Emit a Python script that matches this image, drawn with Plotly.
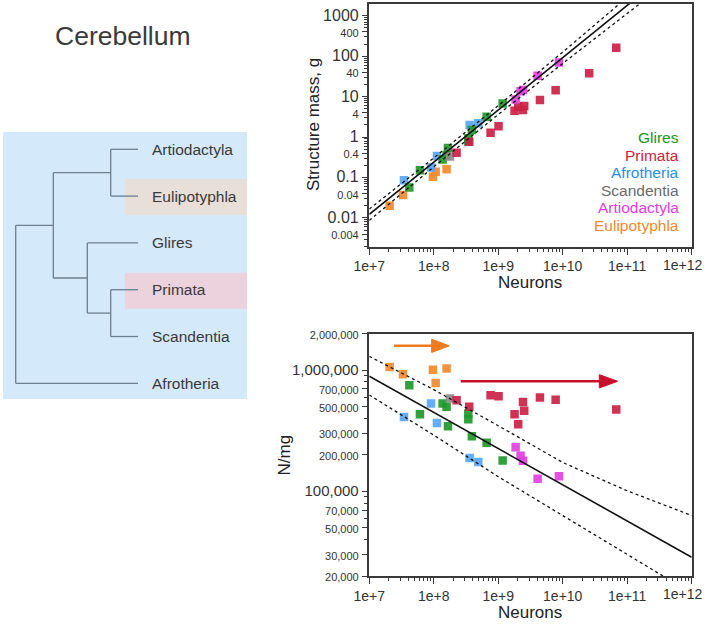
import math
import plotly.graph_objects as go

# ---------------- data ----------------
species = ["Glires", "Primata", "Afrotheria", "Scandentia", "Artiodactyla", "Eulipotyphla"]

glires_neurons = [4.17e7, 6.1e7, 1.37e8, 1.58e8, 1.66e8, 3.43e8, 3.43e8, 3.9e8, 6.6e8, 1.17e9]
glires_mass = [0.057, 0.152, 0.28, 0.36, 0.54, 0.78, 0.93, 1.49, 3.18, 6.8]
glires_density = [7.5e5, 4.33e5, 5.3e5, 4.98e5, 3.44e5, 4.39e5, 3.94e5, 2.85e5, 2.52e5, 1.8e5]

primata_neurons = [2.26e8, 3.55e8, 7.6e8, 1.01e9, 1.79e9, 2.04e9, 2.42e9, 2.53e9, 4.43e9, 7.76e9, 2.57e10, 6.76e10]
primata_mass = [0.41, 0.77, 1.28, 1.85, 4.5, 5.6, 4.66, 5.85, 8.2, 14.3, 37.7, 162]
primata_density = [5.65e5, 4.98e5, 6.2e5, 6.1e5, 4.33e5, 3.58e5, 5.45e5, 4.62e5, 5.94e5, 5.69e5, None, 4.73e5]

afrotheria_neurons = [3.45e7, 9.06e7, 1.12e8, 3.6e8, 4.9e8]
afrotheria_mass = [0.086, 0.178, 0.34, 1.98, 2.2]
afrotheria_density = [4.1e5, 5.3e5, 3.67e5, 1.88e5, 1.75e5]

scandentia_neurons = [1.78e8]
scandentia_mass = [0.33]
scandentia_density = [5.83e5]

artiodactyla_neurons = [1.86e9, 2.22e9, 2.42e9, 4.08e9, 8.73e9]
artiodactyla_mass = [8.5, 13.5, 14.6, 32.9, 70.0]
artiodactyla_density = [2.31e5, 1.97e5, 1.79e5, 1.27e5, 1.33e5]

eulipotyphla_neurons = [2.07e7, 3.33e7, 9.7e7, 1.07e8, 1.58e8]
eulipotyphla_mass = [0.02, 0.037, 0.105, 0.139, 0.16]
eulipotyphla_density = [1.06e6, 9.27e5, 1.01e6, 7.85e5, 1.03e6]

# fitted power laws and prediction bands
fit_neurons = [1e7, 1e8, 1e9, 1e10, 1e11, 1e12]
mass_fit = [0.0123, 0.237, 4.66, 91.6, 1803, 35480]
mass_fit_upper = [0.0166, 0.305, 6.0, 126, 2858, 66070]
mass_fit_lower = [0.0087, 0.184, 3.61, 66.1, 1138, 19050]
density_fit = [891000, 448000, 225000, 113000, 57000, 28600]
density_fit_upper = [1.30e6, 6.9e5, 3.48e5, 1.73e5, 1.01e5, 6.31e4]
density_fit_lower = [6.24e5, 2.91e5, 1.32e5, 6.31e4, 3.01e4, 1.44e4]

# tick labels (the last x label is set flush with the right edge, as in the reference)
x_tickvals = [1e7, 1e8, 1e9, 1e10, 1e11, 1e12]
x_ticktext = ["1e+7", "1e+8", "1e+9", "1e+10", "1e+11", ""]
x_last_label = "1e+12"
mass_tickvals = [0.004, 0.01, 0.04, 0.1, 0.4, 1, 4, 10, 40, 100, 400, 1000]
mass_ticktext = ["0.004", "0.01", "0.04", "0.1", "0.4", "1", "4", "10", "40", "100", "400", "1000"]
mass_major = ["0.01", "0.1", "1", "10", "100", "1000"]
dens_tickvals = [2e4, 3e4, 5e4, 7e4, 1e5, 2e5, 3e5, 5e5, 7e5, 1e6, 2e6]
dens_ticktext = ["20,000", "30,000", "50,000", "70,000", "100,000", "200,000",
                 "300,000", "500,000", "700,000", "1,000,000", "2,000,000"]
dens_major = ["100,000", "1,000,000"]

# cladogram: leaves top to bottom, topology
tree_leaves = ["Artiodactyla", "Eulipotyphla", "Glires", "Primata", "Scandentia", "Afrotheria"]
tree_topology = ((("Artiodactyla", "Eulipotyphla"), ("Glires", ("Primata", "Scandentia"))), "Afrotheria")
highlighted = {"Eulipotyphla": "#e8dfd9", "Primata": "#ebd2dc"}

# ---------------- styling ----------------
colors = {"Glires": "#21992a", "Primata": "#cc2146", "Afrotheria": "#5aa6f2",
          "Scandentia": "#8c8c8c", "Artiodactyla": "#e241e0", "Eulipotyphla": "#f28a30"}
text_colors = {"Glires": "#1c951c", "Primata": "#d3213b", "Afrotheria": "#2c8de6",
               "Scandentia": "#6a6a6a", "Artiodactyla": "#e33de3", "Eulipotyphla": "#f0892c"}
FONT = "Liberation Sans, Arial, Helvetica, sans-serif"
W, H = 708, 625


def px(X):
    return X / W


def py(Y):
    return 1 - Y / H


series = {
    "Glires": (glires_neurons, glires_mass, glires_density),
    "Primata": (primata_neurons, primata_mass, primata_density),
    "Afrotheria": (afrotheria_neurons, afrotheria_mass, afrotheria_density),
    "Scandentia": (scandentia_neurons, scandentia_mass, scandentia_density),
    "Artiodactyla": (artiodactyla_neurons, artiodactyla_mass, artiodactyla_density),
    "Eulipotyphla": (eulipotyphla_neurons, eulipotyphla_mass, eulipotyphla_density),
}

fig = go.Figure()
draw_order = ["Eulipotyphla", "Afrotheria", "Glires", "Scandentia", "Primata", "Artiodactyla"]
for sp in draw_order:
    n, m, d = series[sp]
    mk = dict(symbol="square", size=8.5, color=colors[sp], opacity=0.92, line=dict(width=0))
    fig.add_trace(go.Scatter(x=n, y=m, mode="markers", marker=mk, name=sp,
                             showlegend=False, xaxis="x", yaxis="y"))
    fig.add_trace(go.Scatter(x=n, y=d, mode="markers", marker=mk, name=sp,
                             showlegend=False, xaxis="x2", yaxis="y2"))

for ys, dash, ax in [(mass_fit, "solid", "y"), (mass_fit_upper, "dot", "y"), (mass_fit_lower, "dot", "y"),
                     (density_fit, "solid", "y2"), (density_fit_upper, "dot", "y2"),
                     (density_fit_lower, "dot", "y2")]:
    fig.add_trace(go.Scatter(x=fit_neurons, y=ys, mode="lines", showlegend=False,
                             line=dict(color="#111111", width=1.6 if dash == "solid" else 1.3, dash=dash),
                             xaxis="x" if ax == "y" else "x2", yaxis=ax, hoverinfo="skip"))


def minor_ticks(lo, hi, skip):
    vals = []
    for e in range(lo, hi + 1):
        for k in range(2, 10):
            v = k * 10 ** e
            if all(abs(v - s) / s > 1e-9 for s in skip):
                vals.append(v)
    return vals


def styled(texts, majors, big, small):
    return [f"<span style='font-size:{big}px'>{t}</span>" if t in majors
            else f"<span style='font-size:{small}px'>{t}</span>" for t in texts]


axis_common = dict(type="log", showline=True, linecolor="#3a3a3a", linewidth=1.6, mirror=True,
                   ticks="outside", ticklen=6, tickwidth=1.2, tickcolor="#3a3a3a", automargin=False,
                   ticklabeloverflow="allow",
                   showgrid=False, zeroline=False, tickfont=dict(family=FONT, color="#333", size=14))

xdom = [px(369.3), px(691.7)]
fig.update_layout(
    width=W, height=H, margin=dict(l=0, r=0, t=0, b=0, autoexpand=False),
    paper_bgcolor="white", plot_bgcolor="white", showlegend=False,
    font=dict(family=FONT, color="#333"),
    xaxis=dict(axis_common, domain=xdom, range=[7, 12], anchor="y",
               tickmode="array", tickvals=x_tickvals, ticktext=x_ticktext,
               minor=dict(ticks="outside", ticklen=3.5, tickcolor="#3a3a3a", tickwidth=1,
                          tickmode="array", tickvals=minor_ticks(7, 11, x_tickvals))),
    yaxis=dict(axis_common, domain=[py(246.7), py(4)], range=[-2.71, 3.29], anchor="x",
               tickmode="array", tickvals=mass_tickvals,
               ticktext=styled(mass_ticktext, mass_major, 16, 11),
               minor=dict(ticks="outside", ticklen=3.5, tickcolor="#3a3a3a", tickwidth=1,
                          tickmode="array", tickvals=minor_ticks(-3, 3, mass_tickvals))),
    xaxis2=dict(axis_common, domain=xdom, range=[7, 12], anchor="y2",
                tickmode="array", tickvals=x_tickvals, ticktext=x_ticktext,
                minor=dict(ticks="outside", ticklen=3.5, tickcolor="#3a3a3a", tickwidth=1,
                           tickmode="array", tickvals=minor_ticks(7, 11, x_tickvals))),
    yaxis2=dict(axis_common, domain=[py(576), py(333.7)], range=[math.log10(2e4), math.log10(2e6)],
                anchor="x2", tickmode="array", tickvals=dens_tickvals,
                ticktext=styled(dens_ticktext, dens_major, 15, 11),
                minor=dict(ticks="outside", ticklen=3.5, tickcolor="#3a3a3a", tickwidth=1,
                           tickmode="array", tickvals=minor_ticks(4, 6, dens_tickvals))),
)

annotations = []
shapes = []

# axis titles
annotations += [
    dict(text="Structure mass, g", x=px(314), y=py(125), textangle=-90, font=dict(size=17)),
    dict(text="Neurons", x=px(529.5), y=py(282), font=dict(size=17)),
    dict(text="N/mg", x=px(283.5), y=py(455), textangle=-90, font=dict(size=17)),
    dict(text="Neurons", x=px(530), y=py(612), font=dict(size=17)),
    dict(text="Cerebellum", x=px(123.5), y=py(36), font=dict(size=26.5, color="#3a3a3a")),
]

# last x tick label of both panels, kept inside the figure
for yax in ["y", "y2"]:
    annotations.append(dict(text=x_last_label, x=1.0, xref="x domain" if yax == "y" else "x2 domain",
                            y=0, yref=f"{yax} domain", xanchor="center", yanchor="top",
                            xshift=-9, yshift=-8, font=dict(size=14, color="#333")))

# colour-coded legend text
for i, sp in enumerate(species):
    annotations.append(dict(text=sp, x=px(681), y=py(137.5 + i * 17.5), xanchor="right",
                            font=dict(size=15.5, color=text_colors[sp])))

# arrows in the density panel (domain coords)
arrow_specs = [("#f07a1e", 0.0766, 0.20, 0.1935, 0.248, 0.950, 0.0275),
               ("#c8102e", 0.2835, 0.72, 0.7134, 0.7705, 0.8035, 0.0275)]
for col, l0, l1, h0, h1, yc, hh in arrow_specs:
    shapes.append(dict(type="line", xref="x2 domain", yref="y2 domain", x0=l0, x1=l1, y0=yc, y1=yc,
                       line=dict(color=col, width=2.5)))
    shapes.append(dict(type="path", xref="x2 domain", yref="y2 domain",
                       path=f"M {h0},{yc + hh} L {h1},{yc} L {h0},{yc - hh} Z",
                       fillcolor=col, line=dict(color=col, width=1)))

# cladogram panel
panel = dict(x0=3, x1=247, y0=132, y1=399)
shapes.append(dict(type="rect", xref="paper", yref="paper", layer="below",
                   x0=px(panel["x0"]), x1=px(panel["x1"]), y0=py(panel["y1"]), y1=py(panel["y0"]),
                   fillcolor="#d4e9fa", line=dict(width=0)))
leaf_y0, leaf_step, leaf_x, label_x = 149.3, 46.8, 138, 150
leaf_y = {name: leaf_y0 + i * leaf_step for i, name in enumerate(tree_leaves)}
for name, col in highlighted.items():
    shapes.append(dict(type="rect", xref="paper", yref="paper", layer="below",
                       x0=px(125), x1=px(247), y0=py(leaf_y[name] + 19), y1=py(leaf_y[name] - 17),
                       fillcolor=col, line=dict(width=0)))
# x position of each internal node (keyed by depth path)
node_x = {(): 15.7, (0,): 53.3, (0, 0): 110.7, (0, 1): 87.3, (0, 1, 1): 110.7}
tree_line = dict(color="#6c7f8f", width=1.3)


def seg(x0, y0, x1, y1):
    shapes.append(dict(type="line", xref="paper", yref="paper", x0=px(x0), x1=px(x1),
                       y0=py(y0), y1=py(y1), line=tree_line))


def draw(node, path):
    if isinstance(node, str):
        return leaf_x, leaf_y[node]
    xn = node_x[path]
    ys = []
    for i, child in enumerate(node):
        cx, cy = draw(child, path + (i,))
        seg(xn, cy, cx, cy)
        ys.append(cy)
    seg(xn, min(ys), xn, max(ys))
    return xn, sum(ys) / len(ys)


draw(tree_topology, ())
for name in tree_leaves:
    annotations.append(dict(text=name, x=px(label_x), y=py(leaf_y[name]), xanchor="left",
                            font=dict(size=15.5, color="#3a3a3a")))

for a in annotations:
    a.setdefault("xref", "paper")
    a.setdefault("yref", "paper")
    a.setdefault("showarrow", False)
    a.setdefault("xanchor", "center")
    a.setdefault("yanchor", "middle")
    a["font"] = dict(dict(family=FONT, color="#222"), **a["font"])

fig.update_layout(annotations=annotations, shapes=shapes)
fig.write_html("out.html", config={"displayModeBar": False},
               post_script="document.body.style.margin='0';document.body.style.overflow='hidden';")
